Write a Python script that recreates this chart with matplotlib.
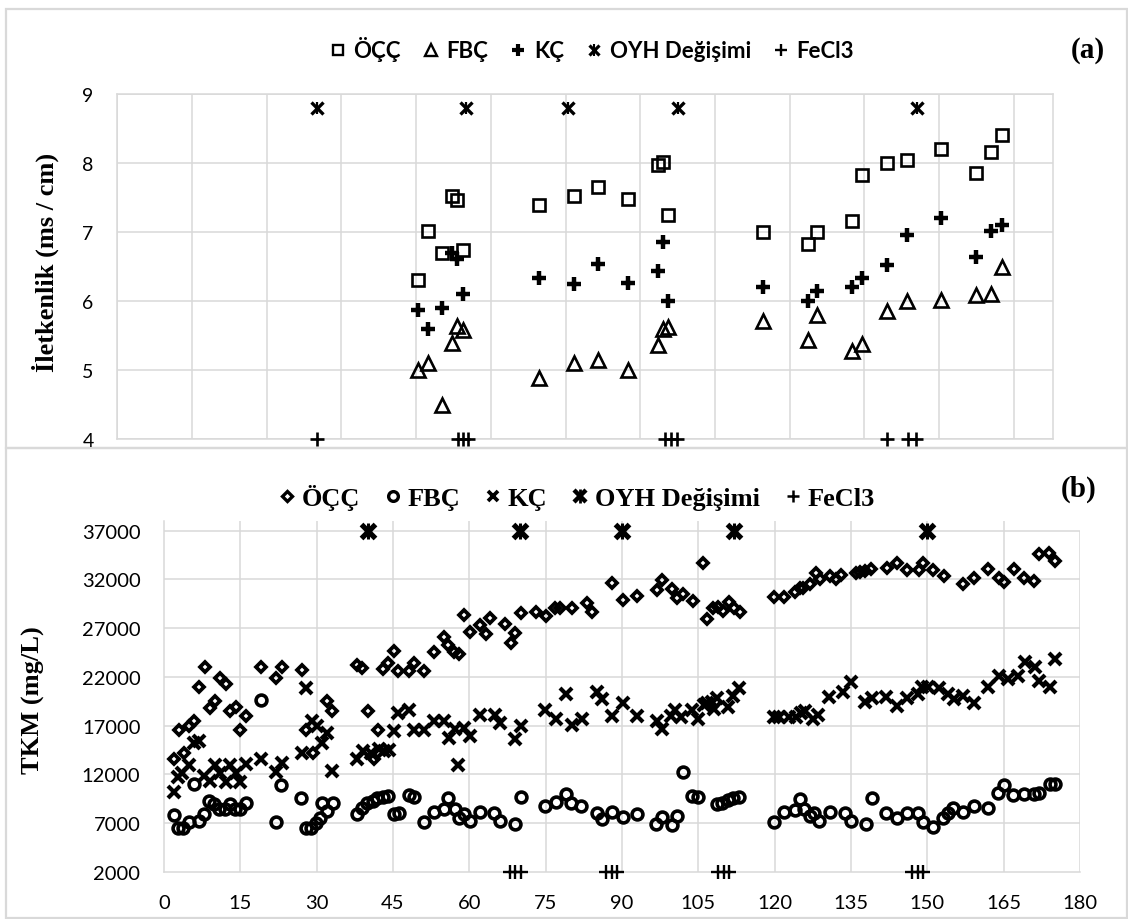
import matplotlib
matplotlib.use("Agg")
import matplotlib.pyplot as plt
from matplotlib.lines import Line2D
from matplotlib.legend_handler import HandlerTuple
from matplotlib.patches import Rectangle

# ---------------- panel (a): conductivity ----------------
a_days = [60.3, 62.3, 65.2, 67.3, 68.3, 69.5, 84.6, 91.7, 96.6, 102.6, 108.6, 109.6,
          110.6, 129.6, 138.6, 140.6, 147.6, 149.6, 154.5, 158.6, 165.5, 172.5, 175.5, 177.6]
a_occ = [6.31, 7.01, 6.70, 7.52, 7.47, 6.74, 7.39, 7.52, 7.65, 7.48, 7.97, 8.01,
         7.25, 7.00, 6.82, 7.00, 7.16, 7.83, 8.00, 8.05, 8.20, 7.86, 8.16, 8.40]
a_kc = [5.87, 5.60, 5.90, 6.70, 6.61, 6.10, 6.34, 6.25, 6.53, 6.26, 6.44, 6.86,
        6.00, 6.20, 6.00, 6.14, 6.20, 6.34, 6.52, 6.95, 7.20, 6.64, 7.01, 7.10]
a_fbc = [5.00, 5.10, 4.50, 5.39, 5.64, 5.58, 4.89, 5.10, 5.14, 5.00, 5.36, 5.60,
         5.63, 5.71, 5.44, 5.80, 5.27, 5.37, 5.86, 6.00, 6.02, 6.08, 6.10, 6.50]
a_oyh_days = [40, 70, 90.5, 112.5, 160.5]
a_oyh_level = 8.8
a_fecl3_days = [40, 68.5, 69.5, 70.5, 110, 111.2, 112.4, 154.5, 158.8, 160.4]
a_fecl3_level = 4
a_yticks = [4, 5, 6, 7, 8, 9]
a_xgrid = list(range(0, 181, 15))

# ---------------- panel (b): TKM ----------------
b_occ_days = [2.0, 3.0, 3.9, 5.0, 5.9, 6.9, 8.1, 9.0, 10.0, 11.0, 12.2, 13.0, 14.2, 15.0, 16.1,
              19.0, 22.0, 23.1, 27.1, 28.0, 29.2, 32.0, 33.0, 37.9, 38.9, 40.0, 41.2, 42.1,
              43.0, 44.1, 45.1, 45.9, 48.1, 49.1, 51.0, 53.1, 55.0, 55.9, 56.9, 57.9, 59.0,
              60.1, 62.0, 63.2, 64.1, 67.1, 68.1, 69.0, 70.2, 73.1, 75.1, 76.9, 77.9, 80.2,
              83.1, 84.1, 88.1, 90.2, 92.9, 96.8, 97.9, 99.8, 100.9, 101.9, 104.0, 105.9,
              106.8, 107.8, 108.8, 109.9, 111.0, 112.1, 113.1, 119.9, 121.9, 123.9, 124.9,
              125.6, 127.0, 128.1, 128.9, 130.9, 132.1, 133.1, 136.0, 136.8, 137.8, 138.9,
              142.1, 144.0, 146.1, 148.3, 149.1, 151.1, 153.2, 157.1, 159.1, 162.0, 164.0,
              165.0, 167.1, 168.9, 171.0, 172.0, 174.0, 175.1]
b_occ = [13600, 16550, 14220, 16960, 17480, 20970, 23030, 18850, 19530, 21930, 21310, 18500,
         18950, 16550, 17990, 23030, 21930, 23030, 22720, 16550, 14150, 19530, 18500, 23230,
         22960, 18500, 13600, 16550, 22790, 23470, 24670, 22620, 22620, 23470, 22620, 24600,
         26110, 25290, 24570, 24330, 28340, 26620, 27310, 26450, 28030, 27410, 25460, 26490,
         28510, 28680, 28200, 29020, 29020, 29120, 29570, 28610, 31590, 29880, 30250, 30940,
         31970, 31010, 30050, 30490, 29810, 33640, 27990, 29020, 29190, 28780, 29640, 29020,
         28680, 30150, 30150, 30730, 31080, 31080, 31520, 32650, 32030, 32310, 32030, 32450,
         32650, 32790, 32890, 33060, 33130, 33680, 32990, 32990, 33680, 32990, 32380, 31520,
         32100, 33060, 32100, 31760, 33060, 32100, 31860, 34600, 34710, 33920]

b_fbc_days = [2.0, 2.8, 3.8, 5.0, 5.9, 6.9, 7.9, 8.9, 9.9, 10.9, 12.0, 13.0, 14.0, 14.9, 16.1,
              19.0, 22.0, 22.9, 26.9, 27.9, 28.8, 29.8, 30.6, 31.1, 32.0, 33.2, 37.9, 38.9,
              39.8, 41.0, 41.9, 43.0, 44.1, 45.1, 46.1, 48.1, 49.1, 51.0, 53.0, 55.0, 55.9,
              57.1, 57.9, 59.0, 60.1, 62.0, 64.9, 66.1, 68.9, 70.2, 74.9, 77.0, 79.0, 80.0,
              82.0, 85.0, 86.0, 88.1, 90.2, 92.9, 96.7, 97.9, 99.8, 100.9, 101.9, 103.8,
              104.9, 108.7, 109.7, 110.8, 111.8, 113.0, 119.8, 121.8, 123.9, 124.9, 125.8,
              126.9, 127.8, 128.8, 130.9, 133.9, 135.0, 138.0, 139.1, 141.9, 144.0, 146.1,
              148.1, 149.2, 151.1, 153.1, 154.0, 155.0, 157.1, 159.1, 162.0, 163.9, 165.0,
              166.9, 169.0, 171.0, 172.0, 174.1, 175.1]
b_fbc = [7790, 6520, 6520, 7100, 10970, 7200, 7890, 9260, 8920, 8400, 8400, 8920, 8400, 8400,
         9020, 19640, 7100, 10900, 9530, 6520, 6520, 7030, 7550, 9020, 8230, 9020, 7890, 8570,
         9020, 9260, 9600, 9700, 9770, 7890, 8060, 9840, 9670, 7100, 8130, 8400, 9530, 8470,
         7550, 7890, 7200, 8160, 8060, 7200, 6860, 9670, 8740, 9160, 10010, 9020, 8740, 8060,
         7440, 8130, 7650, 7890, 6860, 7650, 6760, 7720, 12240, 9770, 9670, 8920, 9020, 9360,
         9600, 9670, 7100, 8130, 8330, 9500, 8400, 7720, 7990, 7200, 8130, 7990, 7200, 6860,
         9600, 8060, 7550, 8060, 7990, 7100, 6620, 7550, 7990, 8570, 8130, 8740, 8570, 10120,
         10870, 9840, 9940, 9940, 10120, 10970, 10970]

b_kc_days = [2.0, 2.8, 3.5, 5.0, 5.9, 6.8, 7.9, 9.0, 10.0, 11.0, 12.2, 13.0, 14.2, 15.0, 16.1,
             19.0, 22.0, 23.1, 27.1, 27.9, 29.0, 30.0, 31.0, 32.0, 33.1, 38.0, 39.2, 40.6,
             42.3, 43.2, 44.3, 45.1, 45.9, 48.1, 49.1, 51.0, 53.1, 55.0, 56.0, 57.1, 57.8,
             59.0, 60.1, 62.0, 65.1, 66.1, 69.0, 70.2, 74.9, 77.0, 79.0, 80.1, 82.2, 85.0,
             86.1, 88.1, 90.2, 92.9, 96.8, 97.9, 99.6, 100.5, 101.5, 103.8, 104.9, 106.2,
             106.8, 107.6, 108.1, 108.7, 110.8, 111.8, 113.0, 119.9, 120.9, 122.9, 124.2,
             125.2, 125.9, 127.6, 128.5, 130.7, 133.5, 135.0, 137.8, 139.1, 141.9, 144.0,
             146.1, 148.1, 148.9, 150.2, 152.2, 154.0, 155.2, 157.1, 159.1, 162.0, 164.0,
             165.8, 167.8, 169.1, 171.2, 172.0, 174.1, 175.1]
b_kc = [10220, 11760, 12170, 12920, 15250, 15420, 11830, 11310, 12920, 12170, 11210, 12920,
        12100, 11210, 13030, 13610, 12240, 13200, 14220, 20900, 17480, 16960, 15250, 16280,
        12340, 13610, 14400, 14220, 14640, 14400, 14500, 16450, 18330, 18610, 16550, 16550,
        17480, 17480, 15770, 16620, 12920, 16790, 15940, 18060, 18060, 17240, 15660, 16960,
        18610, 17650, 20220, 17030, 17650, 20460, 19700, 17990, 19290, 17990, 17480, 16690,
        17990, 18610, 17920, 18610, 17650, 19090, 19360, 19430, 18680, 19880, 18950, 20050,
        20900, 17920, 17920, 17920, 17920, 18270, 18510, 17720, 18060, 19980, 20460, 21490,
        19430, 19880, 19980, 19020, 19880, 20220, 21010, 21010, 20900, 20220, 19700, 20050,
        19290, 21010, 22100, 21760, 22100, 23570, 23060, 21590, 21010, 23880]

b_oyh_days = [40, 70, 90, 112, 150]
b_oyh_level = 37000
b_fecl3_days = [68, 69, 70.2, 86.9, 88, 89.1, 108.9, 110, 111.1, 147, 148.1, 149.1]
b_fecl3_level = 2000
b_xticks = list(range(0, 181, 15))
b_yticks = list(range(2000, 37001, 5000))

assert len(a_days) == len(a_occ) == len(a_kc) == len(a_fbc)
assert len(b_occ_days) == len(b_occ), (len(b_occ_days), len(b_occ))
assert len(b_fbc_days) == len(b_fbc), (len(b_fbc_days), len(b_fbc))
assert len(b_kc_days) == len(b_kc), (len(b_kc_days), len(b_kc))

# ---------------- styling ----------------
GRID = "#d9d9d9"
SANS = "Lato"
SERIF = "Liberation Serif"
W, H = 1128, 920

fig = plt.figure(figsize=(W / 100, H / 100), dpi=100)
fig.patch.set_facecolor("white")

# chart-area borders
for (x0, y0, x1, y1) in [(6, 9.5, 1127, 449), (6, 449, 1127, 919)]:
    fig.add_artist(Rectangle((x0 / W, 1 - y1 / H), (x1 - x0) / W, (y1 - y0) / H,
                             transform=fig.transFigure, fill=False,
                             edgecolor=GRID, lw=1.6, zorder=0))

# ---------- panel (a) ----------
axA = fig.add_axes([117.3 / W, 1 - 440 / H, (1053 - 117.3) / W, (440 - 95) / H])
axA.set_xlim(0, 15 * (1053 - 117.3) / 74.7)
axA.set_ylim(4, 9)
axA.set_yticks(a_yticks)
axA.set_xticks(a_xgrid)
axA.set_xticklabels([])
axA.tick_params(axis="both", length=0, labelsize=14, pad=17)
axA.tick_params(axis="x", pad=0)
for lab in axA.get_yticklabels():
    lab.set_family(SANS)
axA.grid(True, color=GRID, lw=1.1)
axA.set_axisbelow(True)
for sp in axA.spines.values():
    sp.set_color(GRID)
    sp.set_linewidth(1.1)

kwA = dict(ls="none", color="k", clip_on=False, zorder=4)
axA.plot(a_days, a_occ, marker="s", ms=8.3, mfc="none", mec="k", mew=1.9, **kwA)
axA.plot(a_days, a_fbc, marker="^", ms=9.8, mfc="none", mec="k", mew=1.9, **kwA)
axA.plot(a_days, a_kc, marker="+", ms=9.5, mew=3.2, **kwA)
axA.plot(a_oyh_days, [a_oyh_level] * len(a_oyh_days), marker="x", ms=8, mew=2.4, **kwA)
axA.plot(a_oyh_days, [a_oyh_level] * len(a_oyh_days), marker="|", ms=9, mew=1.6, **kwA)
axA.plot(a_fecl3_days, [a_fecl3_level] * len(a_fecl3_days), marker="+", ms=9.5, mew=1.9, **kwA)

fig.text(45 / W, 1 - 262 / H, "İletkenlik (ms / cm)", rotation=90, ha="center", va="center",
         family=SERIF, weight="bold", fontsize=19)
fig.text(1088 / W, 1 - 50 / H, "(a)", ha="center", va="center", family=SERIF,
         weight="bold", fontsize=21)

hA = [
    Line2D([], [], ls="none", marker="s", ms=7.5, mfc="none", mec="k", mew=1.7),
    Line2D([], [], ls="none", marker="^", ms=9, mfc="none", mec="k", mew=1.7),
    Line2D([], [], ls="none", marker="+", ms=9, mew=3.0, color="k"),
    (Line2D([], [], ls="none", marker="x", ms=7.5, mew=2.3, color="k"),
     Line2D([], [], ls="none", marker="|", ms=8.5, mew=1.5, color="k")),
    Line2D([], [], ls="none", marker="+", ms=9, mew=1.7, color="k"),
]
lA = ["ÖÇÇ", "FBÇ", "KÇ", "OYH Değişimi", "FeCl3"]
legA = fig.legend(hA, lA, loc="center", bbox_to_anchor=(592 / W, 1 - 50 / H), ncol=5,
                  frameon=False, handlelength=0.7, handletextpad=0.35, columnspacing=1.0,
                  borderpad=0, handler_map={tuple: HandlerTuple(ndivide=1)},
                  prop=dict(family=SANS, weight="bold", size=16))

# ---------- panel (b) ----------
axB = fig.add_axes([164 / W, 1 - 872.7 / H, (1080 - 164) / W, (872.7 - 522) / H])
axB.set_xlim(0, 180)
axB.set_ylim(2000, 38000)
axB.set_xticks(b_xticks)
axB.set_yticks(b_yticks)
axB.tick_params(axis="both", length=0, labelsize=14.5)
axB.tick_params(axis="y", pad=17)
axB.tick_params(axis="x", pad=16)
for lab in axB.get_xticklabels() + axB.get_yticklabels():
    lab.set_family(SANS)
axB.hlines(b_yticks[1:], 0, 180, color=GRID, lw=1.1, zorder=0.5)
axB.vlines(b_xticks[1:-1], 2000, 38000, color=GRID, lw=1.1, zorder=0.5)
axB.vlines(b_xticks[-1], 2000, b_yticks[-1], color=GRID, lw=1.1, zorder=0.5)
for name, sp in axB.spines.items():
    if name in ("left", "bottom"):
        sp.set_color(GRID)
        sp.set_linewidth(1.1)
    else:
        sp.set_visible(False)

kwB = dict(ls="none", color="k", clip_on=False, zorder=4)
axB.plot(b_fbc_days, b_fbc, marker="o", ms=7.8, mfc="none", mec="k", mew=2.6, **kwB)
axB.plot(b_kc_days, b_kc, marker="x", ms=8, mew=3.0, **kwB)
axB.plot(b_occ_days, b_occ, marker="D", ms=5.2, mfc="none", mec="k", mew=2.7, **kwB)
axB.plot(b_oyh_days, [b_oyh_level] * len(b_oyh_days), marker="x", ms=9.5, mew=3.8, **kwB)
axB.plot(b_oyh_days, [b_oyh_level] * len(b_oyh_days), marker="|", ms=11, mew=2.2, **kwB)
axB.plot(b_fecl3_days, [b_fecl3_level] * len(b_fecl3_days), marker="+", ms=10, mew=1.7, **kwB)

fig.text(33 / W, 1 - 700 / H, "TKM (mg/L)", rotation=90, ha="center", va="center",
         family=SERIF, weight="bold", fontsize=19)
fig.text(1079 / W, 1 - 489 / H, "(b)", ha="center", va="center", family=SERIF,
         weight="bold", fontsize=21)

hB = [
    Line2D([], [], ls="none", marker="D", ms=4.6, mfc="none", mec="k", mew=2.4),
    Line2D([], [], ls="none", marker="o", ms=7, mfc="none", mec="k", mew=2.4),
    Line2D([], [], ls="none", marker="x", ms=7, mew=2.7, color="k"),
    (Line2D([], [], ls="none", marker="x", ms=8, mew=3.2, color="k"),
     Line2D([], [], ls="none", marker="|", ms=9.5, mew=2.0, color="k")),
    Line2D([], [], ls="none", marker="+", ms=9, mew=1.8, color="k"),
]
lB = ["ÖÇÇ", "FBÇ", "KÇ", "OYH Değişimi", "FeCl3"]
legB = fig.legend(hB, lB, loc="center", bbox_to_anchor=(577 / W, 1 - 498 / H), ncol=5,
                  frameon=False, handlelength=0.6, handletextpad=0.25, columnspacing=0.95,
                  borderpad=0, handler_map={tuple: HandlerTuple(ndivide=1)},
                  prop=dict(family=SERIF, weight="bold", size=19))

fig.savefig("out.png", dpi=100, facecolor="white")
